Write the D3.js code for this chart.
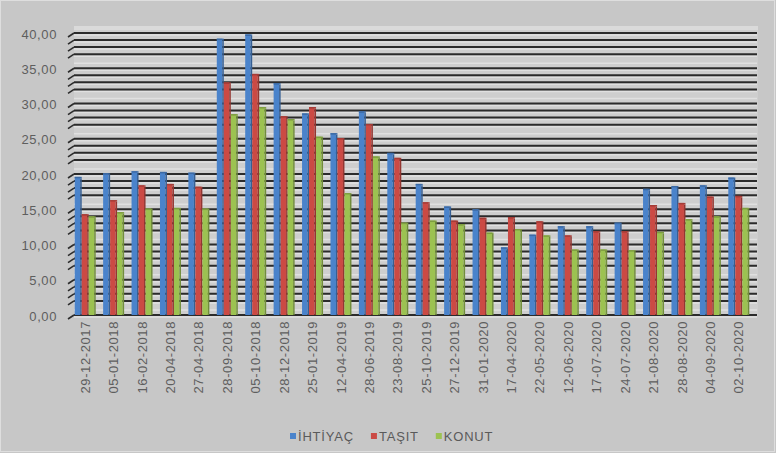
<!DOCTYPE html>
<meta charset="utf-8">
<html>
<head>
<script src="https://d3js.org/d3.v7.min.js" charset="utf-8"></script>
<style type="text/css">
    body { margin: 0; background: #c7c7c7; }
    .axis text {
        font-family: "Liberation Sans", Arial, sans-serif;
        fill: #5e5e5e;
    }
    .axis path, .axis line { display: none; }
    .legend text {
        font-family: "Liberation Sans", Arial, sans-serif;
        font-size: 13px;
        letter-spacing: 0.8px;
        fill: #5a5a5a;
    }
</style>
</head>
<body>
<div id="chart"></div>
<script type="text/javascript">

// data
var dates = ["29-12-2017", "05-01-2018", "16-02-2018", "20-04-2018", "27-04-2018", "28-09-2018",
             "05-10-2018", "28-12-2018", "25-01-2019", "12-04-2019", "28-06-2019", "23-08-2019",
             "25-10-2019", "27-12-2019", "31-01-2020", "17-04-2020", "22-05-2020", "12-06-2020",
             "17-07-2020", "24-07-2020", "21-08-2020", "28-08-2020", "04-09-2020", "02-10-2020"];
var ihtiyac = [19.6, 20.1, 20.4, 20.3, 20.2, 39.2, 39.8, 32.9, 28.6, 25.8, 28.9, 23.0,
               18.6, 15.4, 15.0, 9.6, 11.4, 12.6, 12.6, 13.1, 17.9, 18.3, 18.4, 19.5];
var tasit   = [14.3, 16.3, 18.4, 18.6, 18.2, 33.0, 34.2, 28.2, 29.5, 25.1, 27.1, 22.3,
               16.0, 13.4, 13.8, 13.9, 13.3, 11.3, 11.9, 11.9, 15.6, 15.9, 16.8, 16.9];
var konut   = [14.0, 14.6, 15.1, 15.2, 15.1, 28.5, 29.5, 27.8, 25.3, 17.3, 22.5, 13.1,
               13.4, 12.9, 11.7, 12.2, 11.3, 9.3, 9.3, 9.2, 11.8, 13.6, 14.0, 15.2];
var seriesNames = ["İHTİYAÇ", "TAŞIT", "KONUT"];
var seriesColors = ["#4a83cb", "#cb4a44", "#9cc251"];
var yTicks = [0, 5, 10, 15, 20, 25, 30, 35, 40];

var allSeries = [ihtiyac, tasit, konut];

var width = 776, height = 453;

var svg = d3.select("#chart").append("svg")
    .attr("width", width)
    .attr("height", height);

svg.append("rect")
    .attr("width", width).attr("height", height)
    .attr("fill", "#c7c7c7");
svg.append("rect")
    .attr("x", 0.5).attr("y", 0.5)
    .attr("width", width - 2).attr("height", height - 2)
    .attr("fill", "none").attr("stroke", "#dedede");

// scales
var xScale = d3.scaleBand().domain(dates).range([71, 753]);
var xSub = d3.scaleBand().domain(seriesNames).range([0, 21]);
var yScale = d3.scaleLinear().domain([0, 40]).range([315, 33]);

// back wall
svg.append("rect")
    .attr("x", 74).attr("y", 27)
    .attr("width", 684).attr("height", 289)
    .attr("fill", "#cecece");
svg.append("rect")
    .attr("x", 74).attr("y", 26)
    .attr("width", 684).attr("height", 4)
    .attr("fill", "#dadada");

// gridlines, one per unit (the band right above each major tick shows blank)
var gridVals = d3.range(0, 41);
var grid = svg.append("g").attr("class", "grid");
gridVals.forEach(function(v) {
    var y = yScale(v);
    grid.append("line")
        .attr("x1", 74).attr("x2", 757)
        .attr("y1", y + 2).attr("y2", y + 2)
        .attr("stroke", "#e0e0e0").attr("stroke-width", 1.5);
    if (v % 5 === 1) return;
    grid.append("line")
        .attr("x1", 74).attr("x2", 757)
        .attr("y1", y).attr("y2", y)
        .attr("stroke", "#2b2b2b").attr("stroke-width", 2);
    // side wall stroke
    grid.append("line")
        .attr("x1", 68).attr("y1", y + 4)
        .attr("x2", 74).attr("y2", y)
        .attr("stroke", "#2b2b2b").attr("stroke-width", 1.6);
});

// bars
var barW = xSub.bandwidth();
allSeries.forEach(function(vals, s) {
    var col = d3.color(seriesColors[s]);
    var g = svg.append("g");
    g.selectAll("rect.front")
        .data(vals)
        .enter().append("rect")
        .attr("class", "front")
        .attr("x", function(d, i) { return xScale(dates[i]) + xScale.bandwidth() / 2 - 10.5 + xSub(seriesNames[s]); })
        .attr("y", function(d) { return yScale(d); })
        .attr("width", barW - 1.5)
        .attr("height", function(d) { return yScale(0) - yScale(d); })
        .attr("fill", col.formatHex());
    g.selectAll("rect.side")
        .data(vals)
        .enter().append("rect")
        .attr("class", "side")
        .attr("x", function(d, i) { return xScale(dates[i]) + xScale.bandwidth() / 2 - 10.5 + xSub(seriesNames[s]) + barW - 1.5; })
        .attr("y", function(d) { return yScale(d) + 1.5; })
        .attr("width", 1.5)
        .attr("height", function(d) { return yScale(0) - yScale(d) - 1.5; })
        .attr("fill", col.darker(0.9).formatHex());
    g.selectAll("rect.top")
        .data(vals)
        .enter().append("rect")
        .attr("class", "top")
        .attr("x", function(d, i) { return xScale(dates[i]) + xScale.bandwidth() / 2 - 10.5 + xSub(seriesNames[s]); })
        .attr("y", function(d) { return yScale(d); })
        .attr("width", barW)
        .attr("height", 1.5)
        .attr("fill", col.darker(0.6).formatHex());
});

// y axis
var yAxis = d3.axisLeft(yScale)
    .tickValues(yTicks)
    .tickSize(0)
    .tickPadding(0)
    .tickFormat(function(d) { return d.toFixed(2).replace(".", ","); });
svg.append("g")
    .attr("class", "y axis")
    .attr("transform", "translate(57,1)")
    .call(yAxis)
    .selectAll("text")
    .style("font-size", "13px")
    .style("letter-spacing", "0.6px");

// x axis
var xAxis = d3.axisBottom(xScale).tickSize(0);
svg.append("g")
    .attr("class", "x axis")
    .attr("transform", "translate(0,321)")
    .call(xAxis)
    .selectAll("text")
    .attr("transform", "rotate(-90)")
    .attr("text-anchor", "end")
    .attr("x", 0)
    .attr("y", 0)
    .attr("dy", "0.35em")
    .style("font-size", "13px")
    .style("letter-spacing", "0.6px");

// legend
var legend = svg.append("g").attr("class", "legend");
var lx = 290;
seriesNames.forEach(function(name, i) {
    legend.append("rect")
        .attr("x", lx).attr("y", 433)
        .attr("width", 6).attr("height", 6)
        .attr("fill", seriesColors[i]);
    var t = legend.append("text")
        .attr("x", lx + 8).attr("y", 441)
        .text(name);
    lx += 8 + t.node().getComputedTextLength() + 17;
});

</script>
</body>
</html>
